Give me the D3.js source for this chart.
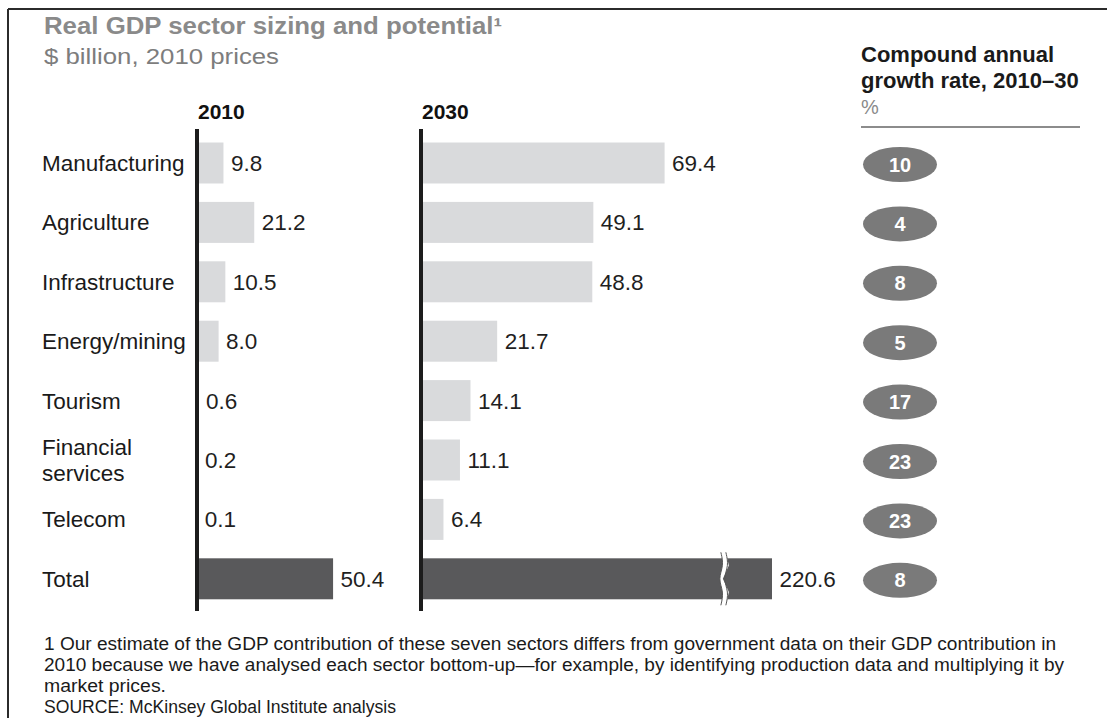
<!DOCTYPE html>
<html>
<head>
<meta charset="utf-8">
<script src="https://cdn.jsdelivr.net/npm/d3@7"></script>
<style>
  html, body { margin: 0; padding: 0; background: #fff; }
  svg { display: block; }
  text { font-family: "Liberation Sans", Arial, Helvetica, sans-serif; }
</style>
</head>
<body>
<svg id="chart" width="1107" height="718"></svg>
<script>
// ---- data ----
const categories = ["Manufacturing", "Agriculture", "Infrastructure", "Energy/mining", "Tourism", "Financial services", "Telecom", "Total"];
const values2010 = [9.8, 21.2, 10.5, 8.0, 0.6, 0.2, 0.1, 50.4];
const values2030 = [69.4, 49.1, 48.8, 21.7, 14.1, 11.1, 6.4, 220.6];
const cagr = [10, 4, 8, 5, 17, 23, 23, 8];
const columnLabels = ["2010", "2030"];
const titleText = "Real GDP sector sizing and potential\u00B9";
const subtitleText = "$ billion, 2010 prices";
const rightHeader = ["Compound annual", "growth rate, 2010\u201330", "%"];
const footnotes = [
  "1 Our estimate of the GDP contribution of these seven sectors differs from government data on their GDP contribution in",
  "2010 because we have analysed each sector bottom-up\u2014for example, by identifying production data and multiplying it by",
  "market prices.",
  "SOURCE: McKinsey Global Institute analysis"
];
const breakAt = 100;   // 2030 axis shown up to this value, longer bars are broken
const breakMark = 86;

// ---- drawing ----
const svg = d3.select("#chart");
const fmt = d3.format(".1f");

// frame
svg.append("line").attr("x1", 8).attr("x2", 1107).attr("y1", 9).attr("y2", 9)
  .attr("stroke", "#2b2b2b").attr("stroke-width", 2);
svg.append("line").attr("x1", 8).attr("x2", 8).attr("y1", 9).attr("y2", 718)
  .attr("stroke", "#2b2b2b").attr("stroke-width", 2);

// title
svg.append("text").attr("x", 44).attr("y", 34).text(titleText)
  .attr("font-size", 23).attr("font-weight", "bold").attr("fill", "#8a8a8a")
  .attr("textLength", 458).attr("lengthAdjust", "spacingAndGlyphs");
svg.append("text").attr("x", 44).attr("y", 64).text(subtitleText)
  .attr("font-size", 22).attr("fill", "#7d7d7d")
  .attr("textLength", 235).attr("lengthAdjust", "spacingAndGlyphs");

const y = d3.scaleBand().domain(categories).range([133.3, 608.5])
  .paddingInner(0.31).paddingOuter(0.155);

const x2010 = d3.scaleLinear().domain([0, 60]).range([197, 197 + 162]);
const x2030 = d3.scaleLinear().domain([0, breakAt]).range([421, 772]).clamp(true);

const rows = categories.map((c, i) => ({ c, v10: values2010[i], v30: values2030[i], g: cagr[i], total: c === "Total" }));

// category labels
const catG = svg.append("g");
rows.forEach(r => {
  const cy = y(r.c) + y.bandwidth() / 2;
  const words = r.c === "Financial services" ? ["Financial", "services"] : [r.c];
  const t = catG.append("text").attr("x", 42).attr("font-size", 22.5).attr("fill", "#1a1a1a");
  words.forEach((w, k) => {
    t.append("tspan").attr("x", 42)
      .attr("y", cy + 8 + (k - (words.length - 1) / 2) * 26)
      .text(w);
  });
});

function panel(xs, key, header) {
  const g = svg.append("g");
  g.selectAll("rect").data(rows).join("rect")
    .attr("x", xs(0))
    .attr("y", d => y(d.c))
    .attr("height", y.bandwidth())
    .attr("width", d => xs(d[key]) - xs(0))
    .attr("fill", d => d.total ? "#59595b" : "#d9dadc");
  g.selectAll("text.val").data(rows).join("text").attr("class", "val")
    .attr("x", d => xs(d[key]) + 7.5)
    .attr("y", d => y(d.c) + y.bandwidth() / 2 + 8)
    .attr("font-size", 22.5).attr("fill", "#1f1f1f")
    .text(d => fmt(d[key]));
  // axis line
  g.append("line").attr("x1", xs(0)).attr("x2", xs(0)).attr("y1", 129).attr("y2", 611)
    .attr("stroke", "#1c1c1c").attr("stroke-width", 4);
  g.append("text").attr("x", xs(0) + 1).attr("y", 119).text(header)
    .attr("font-size", 21).attr("font-weight", "bold").attr("fill", "#111");
  return g;
}
panel(x2010, "v10", columnLabels[0]);
const g30 = panel(x2030, "v30", columnLabels[1]);

// break mark on bars exceeding the axis
rows.filter(d => d.v30 > breakAt).forEach(d => {
  const bx = x2030(breakMark);
  const top = y(d.c) - 6, bot = y(d.c) + y.bandwidth() + 6;
  const h = bot - top;
  const pts = k => [
    [bx + k, top], [bx + k + 3, top + h * 0.25], [bx + k - 3, top + h * 0.5],
    [bx + k + 3, top + h * 0.75], [bx + k, bot]
  ];
  const line = d3.line().curve(d3.curveBasis);
  const a = pts(-2), b = pts(3);
  g30.append("path").attr("d", line(a) + "L" + b.slice().reverse().map(p => p.join(",")).join("L") + "Z")
    .attr("fill", "#fff");
  g30.append("path").attr("d", line(a)).attr("fill", "none").attr("stroke", "#555").attr("stroke-width", 1);
  g30.append("path").attr("d", line(b)).attr("fill", "none").attr("stroke", "#555").attr("stroke-width", 1);
});

// right column header
const rh = svg.append("g");
rh.append("text").attr("x", 861).attr("y", 62).text(rightHeader[0])
  .attr("font-size", 22).attr("font-weight", "bold").attr("fill", "#1a1a1a");
rh.append("text").attr("x", 861).attr("y", 88).text(rightHeader[1])
  .attr("font-size", 22).attr("font-weight", "bold").attr("fill", "#1a1a1a");
rh.append("text").attr("x", 861).attr("y", 114).text(rightHeader[2])
  .attr("font-size", 20).attr("fill", "#8a8a8a");
rh.append("line").attr("x1", 861).attr("x2", 1080).attr("y1", 127).attr("y2", 127)
  .attr("stroke", "#8c8c8c").attr("stroke-width", 2);

// growth ellipses
const eg = svg.append("g");
eg.selectAll("ellipse").data(rows).join("ellipse")
  .attr("cx", 900).attr("cy", d => y(d.c) + y.bandwidth() / 2 + 1.5)
  .attr("rx", 37).attr("ry", 17.5).attr("fill", "#7a7a7a");
eg.selectAll("text").data(rows).join("text")
  .attr("x", 900).attr("y", d => y(d.c) + y.bandwidth() / 2 + 8.5)
  .attr("text-anchor", "middle").attr("font-size", 20).attr("font-weight", "bold")
  .attr("fill", "#fff").text(d => d.g);

// footnotes
const fnLen = [1012, 1020, 122, 352];
svg.append("g").selectAll("text").data(footnotes).join("text")
  .attr("x", 44).attr("y", (d, i) => [650, 671, 692, 713][i])
  .attr("font-size", 17.5).attr("fill", "#1a1a1a")
  .attr("textLength", (d, i) => fnLen[i]).attr("lengthAdjust", "spacingAndGlyphs")
  .style("font-family", "'Liberation Sans Narrow', 'Arial Narrow', 'Liberation Sans', Arial, sans-serif")
  .text(d => d);
</script>
</body>
</html>
